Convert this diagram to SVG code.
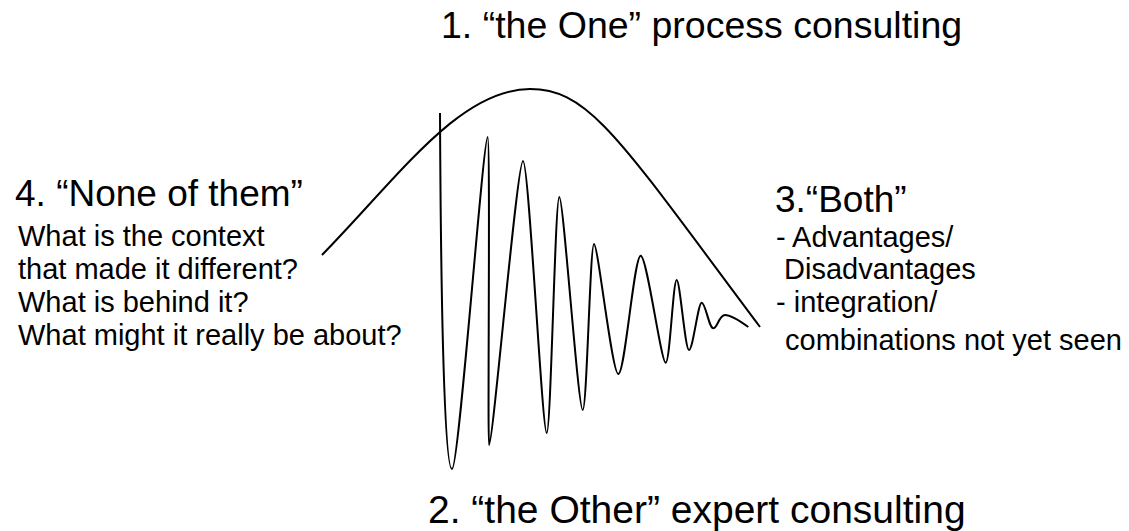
<svg xmlns="http://www.w3.org/2000/svg" width="1129" height="531" viewBox="0 0 1129 531">
  <style>
    .t { font-family: "Liberation Sans", Arial, sans-serif; fill: #000; }
    .big { font-size: 37px; }
    .small { font-size: 29px; }
    .curve { fill: none; stroke: #000; stroke-width: 2; stroke-linejoin: round; stroke-linecap: butt; }
  </style>
  <rect width="1129" height="531" fill="#fff"/>
  <g id="connectors">
    <path id="bell" class="curve" d="M322,255 C400,175 460,89 530,89 C590,89 620,140 760,327"/>
    <path id="wave" class="curve" d="M440,113 C441,330 445,469 452,469 C459,469 483,137 487.7,137 C490.5,137 487.5,445 489,445 C493,445 517,161 523,161 C529,161 542,433 546.7,433 C551,433 555,197 559.3,197 C563.5,197 578,410 582.7,410 C587,410 590,244 594,244 C598,244 612,374 618.3,374 C625,374 634,255.7 640.7,255.7 C647,255.7 661,362.7 665.7,362.7 C670,362.7 673,280 676.7,280 C680,280 685,350 689,350 C693,350 698,302.7 701.7,302.7 C705.5,302.7 709,328.3 713.3,328.3 C717.5,328.3 719,315 725,315 C731,315 740,321 748.3,327"/>
  </g>
  <g id="node-one">
    <text class="t big" x="441" y="38" style="font-size:37.5px">1. “the One” process consulting</text>
  </g>
  <g id="node-other">
    <text class="t big" x="428" y="523" style="font-size:39px">2. “the Other” expert consulting</text>
  </g>
  <g id="node-none">
    <text class="t big" x="15" y="206">4. “None of them”</text>
    <text class="t small" x="18" y="246">What is the context</text>
    <text class="t small" x="18" y="279">that made it different?</text>
    <text class="t small" x="18" y="312">What is behind it?</text>
    <text class="t small" x="18" y="345">What might it really be about?</text>
  </g>
  <g id="node-both">
    <text class="t big" x="775" y="212">3.“Both”</text>
    <text class="t small" x="776" y="247">- Advantages/</text>
    <text class="t small" x="784" y="279">Disadvantages</text>
    <text class="t small" x="776" y="312">- integration/</text>
    <text class="t small" x="785" y="350">combinations not yet seen</text>
  </g>
</svg>
